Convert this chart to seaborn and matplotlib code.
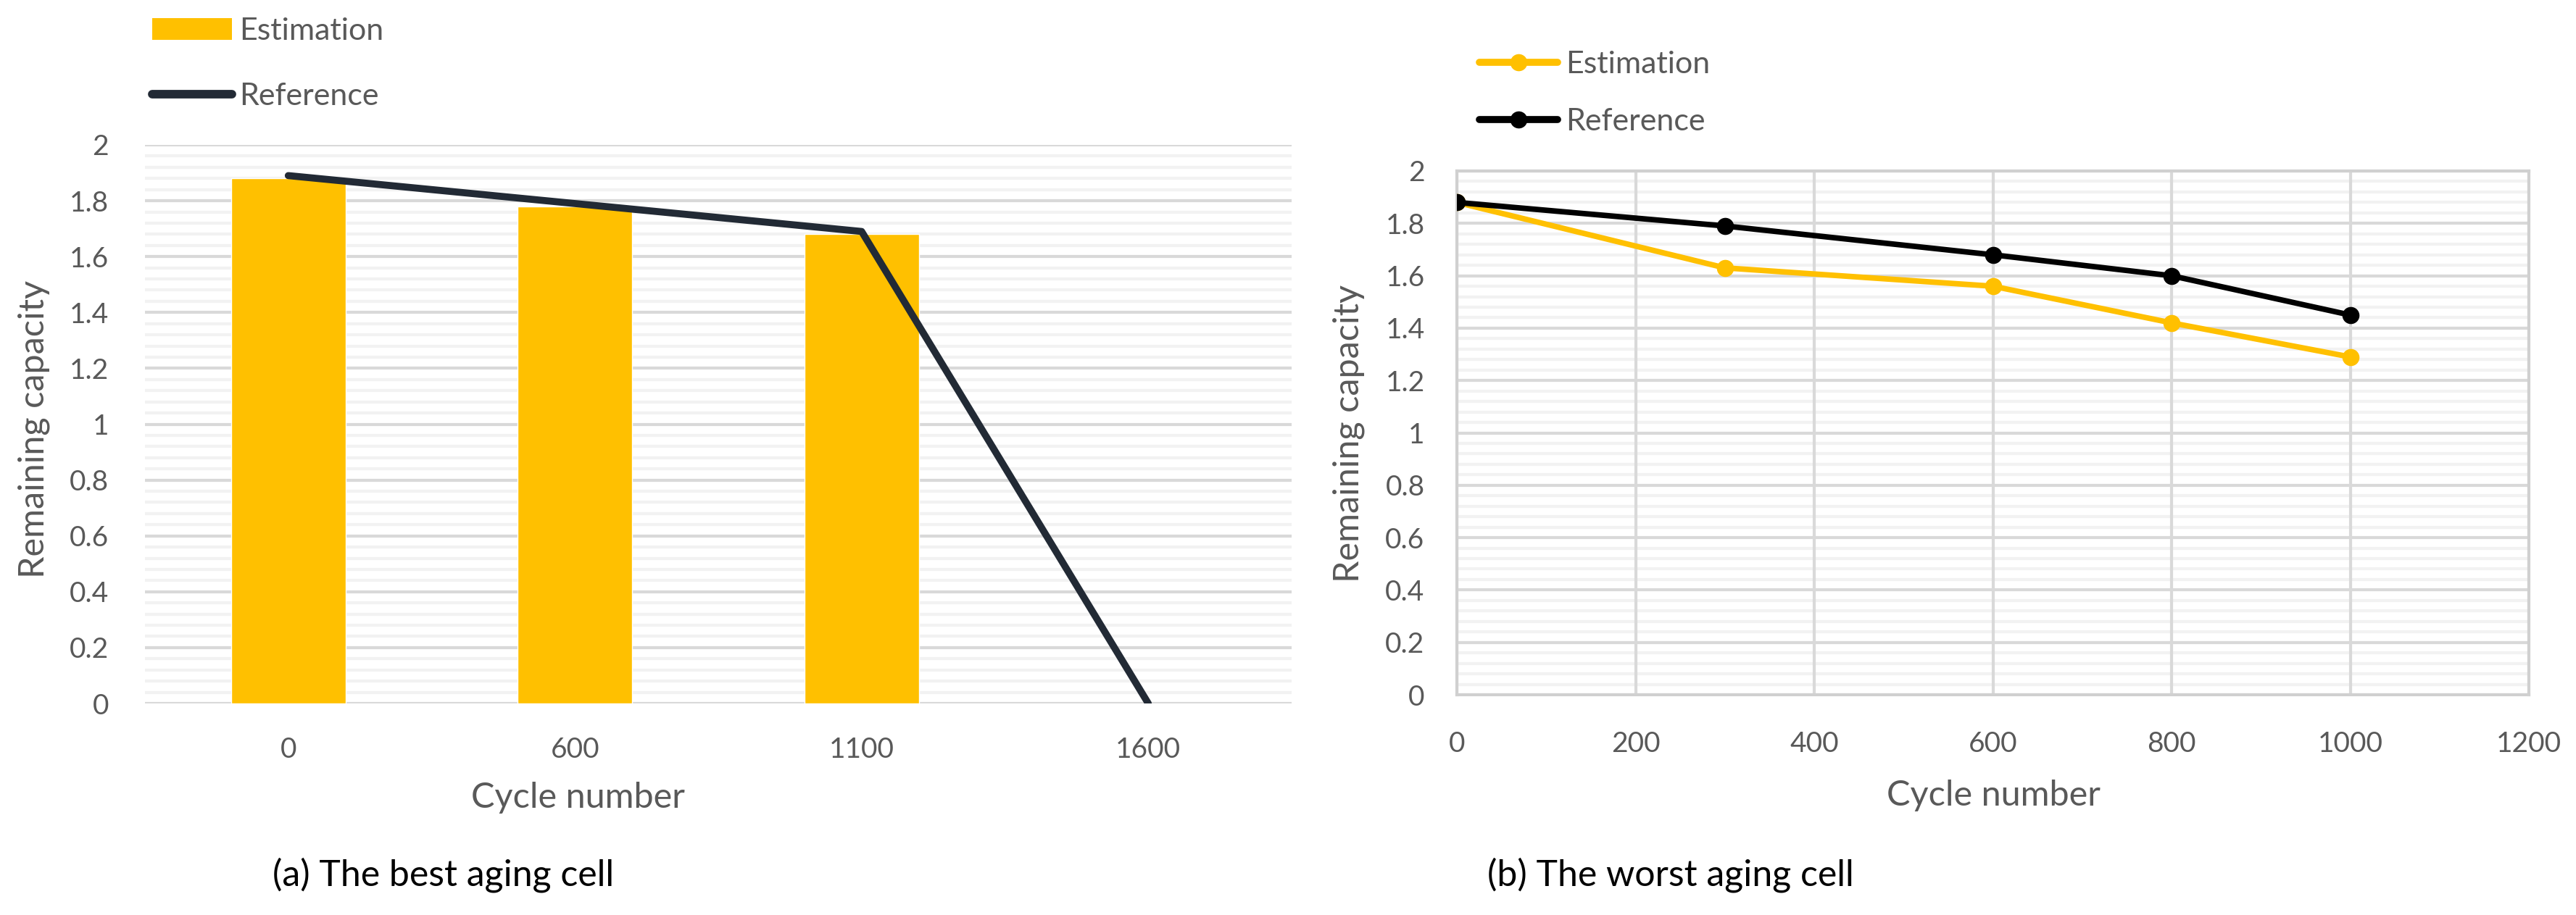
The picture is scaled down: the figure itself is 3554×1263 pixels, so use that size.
import numpy as np
import pandas as pd
import matplotlib
matplotlib.use("Agg")
import matplotlib.pyplot as plt
from matplotlib.lines import Line2D
from matplotlib.patches import Patch
from matplotlib.ticker import MultipleLocator
import seaborn as sns

# ---------------- data ----------------
best_cycles = ["0", "600", "1100", "1600"]
best_estimation = [1.88, 1.78, 1.68, np.nan]
best_reference = [1.89, 1.79, 1.69, 0.0]

worst_cycles = [0, 300, 600, 800, 1000]
worst_estimation = [1.88, 1.63, 1.56, 1.42, 1.29]
worst_reference = [1.88, 1.79, 1.68, 1.60, 1.45]

y_ticks = [0, 0.2, 0.4, 0.6, 0.8, 1, 1.2, 1.4, 1.6, 1.8, 2]
x_ticks_b = [0, 200, 400, 600, 800, 1000, 1200]

# ---------------- style ----------------
sns.set_theme(style="white")
plt.rcParams['font.family'] = ['Lato', 'DejaVu Sans']

YELLOW = "#FFC000"
NAVY = "#222A35"
TXT = "#595959"
MAJ = "#D9D9D9"
MIN = "#F2F2F2"

W, H = 3555, 1263
fig = plt.figure(figsize=(W / 100, H / 100), dpi=100)

def fx(px):
    return px / W

def fy(py):
    return 1 - py / H

# ---------------- (a) best aging cell ----------------
ax1 = fig.add_axes([fx(200), fy(971), fx(1782 - 200), (971 - 200) / H])
df_a = pd.DataFrame({"cycle": best_cycles, "est": best_estimation})
sns.barplot(data=df_a, x="cycle", y="est", order=best_cycles, color=YELLOW,
            saturation=1, width=0.4, ax=ax1, zorder=3)
sns.lineplot(x=np.arange(len(best_cycles)), y=best_reference, color=NAVY,
             lw=7, ax=ax1, zorder=4)
ax1.set_xlim(-0.5, len(best_cycles) - 0.5)
ax1.set_ylim(0, 2)
ax1.set_yticks(y_ticks)
ax1.set_yticklabels([f"{v:g}" for v in y_ticks])
ax1.yaxis.set_minor_locator(MultipleLocator(0.04))
ax1.grid(axis="y", which="major", color=MAJ, lw=3, zorder=0)
ax1.grid(axis="y", which="minor", color=MIN, lw=3, zorder=0)
ax1.set_axisbelow(True)
for s in ax1.spines.values():
    s.set_visible(False)
ax1.tick_params(axis="both", which="both", length=0, labelsize=28, colors=TXT)
ax1.tick_params(axis="y", pad=36)
ax1.tick_params(axis="x", pad=33)
ax1.set_xlabel("")
ax1.set_ylabel("")

fig.text(fx(47), fy(592), "Remaining capacity", rotation=90, ha="center", va="center",
         fontsize=35, color=TXT)
fig.text(fx(797), fy(1115), "Cycle number", ha="center", va="baseline", fontsize=35, color=TXT)
fig.text(fx(612), fy(1222), "(a) The best aging cell", ha="center", va="baseline",
         fontsize=36, color="black")

h1 = [Patch(facecolor=YELLOW, edgecolor="none"),
      Line2D([0], [0], color=NAVY, lw=8.5, solid_capstyle="round")]
fig.legend(h1, ["Estimation", "Reference"], loc="upper left",
           bbox_to_anchor=(fx(210), fy(24)), frameon=False, fontsize=31,
           labelcolor=TXT, handlelength=2.55, handleheight=0.67,
           handletextpad=0.23, labelspacing=1.2, borderpad=0, borderaxespad=0)

# ---------------- (b) worst aging cell ----------------
ax2 = fig.add_axes([fx(2010), fy(959), fx(3489 - 2010), (959 - 236) / H])
df_b = pd.DataFrame({
    "cycle": worst_cycles * 2,
    "cap": worst_estimation + worst_reference,
    "series": ["Estimation"] * len(worst_cycles) + ["Reference"] * len(worst_cycles),
})
sns.lineplot(data=df_b, x="cycle", y="cap", hue="series",
             palette={"Estimation": YELLOW, "Reference": "black"},
             marker="o", markersize=17, markeredgewidth=0, lw=5.5,
             ax=ax2, legend=False, zorder=4)
ax2.set_xlim(0, 1200)
ax2.set_ylim(0, 2)
ax2.set_xticks(x_ticks_b)
ax2.set_yticks(y_ticks)
ax2.set_yticklabels([f"{v:g}" for v in y_ticks])
ax2.yaxis.set_minor_locator(MultipleLocator(0.04))
ax2.grid(axis="y", which="major", color=MAJ, lw=3)
ax2.grid(axis="y", which="minor", color=MIN, lw=3)
ax2.grid(axis="x", which="major", color=MAJ, lw=3)
ax2.set_axisbelow(True)
ax2.yaxis.set_zorder(0.5)
ax2.xaxis.set_zorder(0.7)
for s in ax2.spines.values():
    s.set_color("#D0D0D0")
    s.set_linewidth(3)
ax2.tick_params(axis="both", which="both", length=0, labelsize=28, colors=TXT)
ax2.tick_params(axis="y", pad=32)
ax2.tick_params(axis="x", pad=36)
ax2.set_xlabel("")
ax2.set_ylabel("")

fig.text(fx(1861), fy(598), "Remaining capacity", rotation=90, ha="center", va="center",
         fontsize=35, color=TXT)
fig.text(fx(2750), fy(1112), "Cycle number", ha="center", va="baseline", fontsize=35, color=TXT)
fig.text(fx(2305), fy(1222), "(b) The worst aging cell", ha="center", va="baseline",
         fontsize=36, color="black")

h2 = [Line2D([0], [0], color=YELLOW, lw=7, marker="o", markersize=17, markeredgewidth=0),
      Line2D([0], [0], color="black", lw=7, marker="o", markersize=17, markeredgewidth=0)]
fig.legend(h2, ["Estimation", "Reference"], loc="upper left",
           bbox_to_anchor=(fx(2041), fy(70)), frameon=False, fontsize=31,
           labelcolor=TXT, handlelength=2.5, handletextpad=0.26,
           labelspacing=0.95, borderpad=0, borderaxespad=0)

fig.savefig("out.png", dpi=100, facecolor="white")
